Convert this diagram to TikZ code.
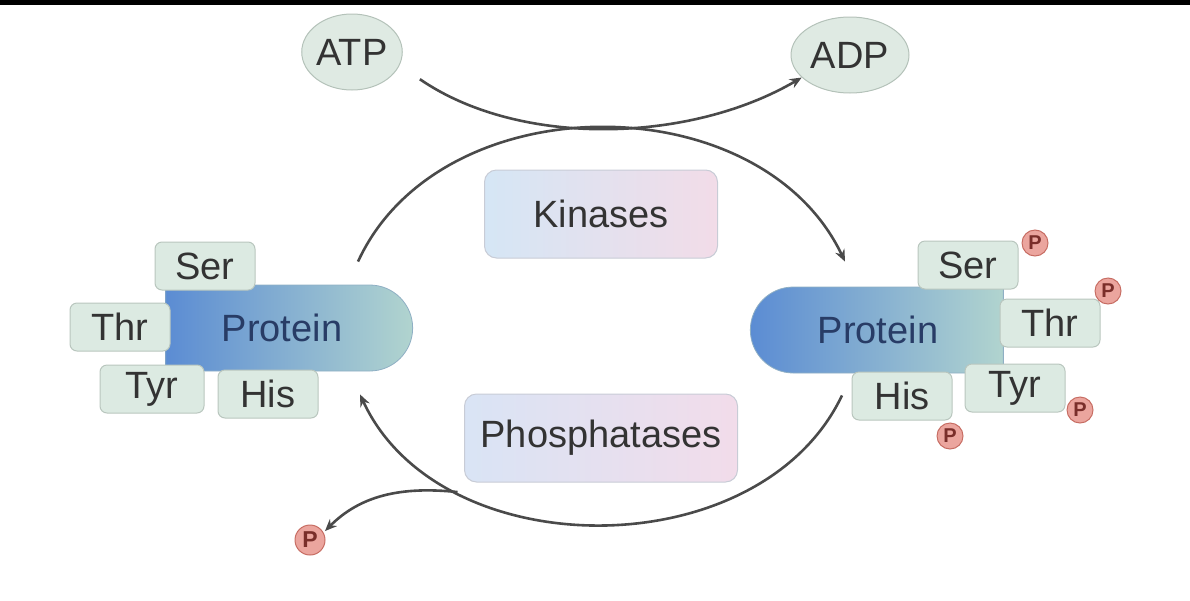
\documentclass[tikz,border=0pt]{standalone}
\usepackage{fontspec}
\setmainfont{Liberation Sans}
\usetikzlibrary{positioning,arrows.meta,shapes.geometric,shapes.misc}
\definecolor{inkdark}{HTML}{333333}
\definecolor{arrink}{HTML}{4A4A4A}
\definecolor{nucfill}{HTML}{DFEAE3}
\definecolor{nucline}{HTML}{B4C2B9}
\definecolor{enzline}{HTML}{C8CCD6}
\definecolor{kinleft}{HTML}{D5E6F5}
\definecolor{kinright}{HTML}{F2DCE8}
\definecolor{phleft}{HTML}{D9E4F5}
\definecolor{phright}{HTML}{F2DCEA}
\definecolor{protdark}{HTML}{5B8CD3}
\definecolor{protlight}{HTML}{B1D4CF}
\definecolor{protline}{HTML}{8FAFC4}
\definecolor{protink}{HTML}{283C66}
\definecolor{resfill}{HTML}{DCEAE2}
\definecolor{resline}{HTML}{B9C6BE}
\definecolor{phosfill}{HTML}{EBA59E}
\definecolor{phosline}{HTML}{C76D63}
\definecolor{phosink}{HTML}{7A2E2A}

\begin{document}
\begin{tikzpicture}[x=1pt, y=-1pt,
  font=\fontsize{38}{40}\selectfont,
  nuc/.style={ellipse, draw=nucline, fill=nucfill, line width=1pt, minimum width=98pt, minimum height=76pt, inner sep=0pt, text=inkdark},
  enz/.style={draw=enzline, rounded corners=12pt, line width=1pt, minimum height=88pt, inner sep=0pt, text=inkdark},
  prot/.style={rounded rectangle, minimum height=86pt, inner sep=0pt, text=protink, left color=protdark, right color=protlight, draw=protline, line width=0.8pt},
  resid/.style={draw=resline, fill=resfill, rounded corners=7pt, line width=1pt, minimum width=100pt, minimum height=48pt, inner sep=0pt, text=inkdark},
  phos/.style={circle, draw=phosline, fill=phosfill, line width=1pt, minimum size=26pt, inner sep=0pt, text=phosink, font=\fontsize{20}{20}\selectfont\bfseries},
  arr/.style={-{Stealth[length=12pt, width=10pt]}, draw=arrink, line width=2.6pt}]
\useasboundingbox (0,0) rectangle (1190,600);
\fill[black] (0,0) rectangle (1190,5);
% nucleotides and enzymes
\node[nuc] (atp) at (352,52) {ATP};
\node[nuc, minimum width=118pt] (adp) at (850,55) {ADP};
\node[enz, minimum width=233pt, left color=kinleft, right color=kinright] (kin) at (601,214) {Kinases};
\node[enz, minimum width=273pt, left color=phleft, right color=phright] (pho) at (601,438) {Phosphatases};
% unphosphorylated protein
\node[prot, rounded rectangle left arc=none, minimum width=247pt] (protL) at (288,328) {\hspace*{-12pt}Protein};
\node[resid] (serL) at (205,266) {Ser};
\node[resid] (thrL) at (120,327) {Thr};
\node[resid, minimum width=104pt] (tyrL) at (152,389) {Tyr};
\node[resid] (hisL) at (268,394) {His};
% phosphorylated protein
\node[prot, rounded rectangle right arc=none, minimum width=253pt] (protR) at (878,330) {Protein};
\node[resid] (serR) at (968,265) {Ser};
\node[resid] (thrR) at (1050,323) {Thr};
\node[resid] (tyrR) at (1015,388) {Tyr};
\node[resid] (hisR) at (902,396) {His};
\node[phos] (pSer) at (1035,243) {P};
\node[phos] (pThr) at (1108,291) {P};
\node[phos] (pTyr) at (1080,410) {P};
\node[phos] (pHis) at (950,436) {P};
\node[phos, minimum size=30pt, font=\fontsize{23}{23}\selectfont\bfseries] (pFree) at (310,540) {P};
% arrows
\draw[arr] ([xshift=32pt]atp.south east) .. controls (520,148) and (690,143) .. (adp.205);
\draw[arr] ([xshift=70pt,yshift=23pt]protL.north) .. controls (440,83) and (760,83) .. ([xshift=-33pt,yshift=25pt]protR.north);
\draw[arr] ([xshift=-36pt,yshift=-22pt]protR.south) .. controls (760,568) and (440,568)
  .. coordinate[pos=0.75] (brk) ([xshift=72pt,yshift=-23pt]protL.south);
\draw[arr] (brk) .. controls (400,486) and (360,496) .. ([xshift=4pt,yshift=-2pt]pFree.north east);
\end{tikzpicture}
\end{document}
